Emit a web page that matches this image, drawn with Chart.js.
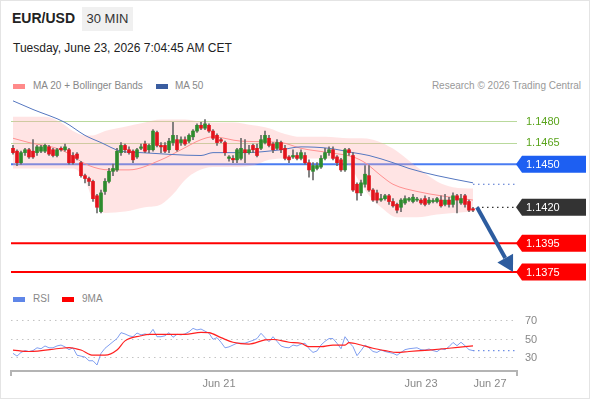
<!DOCTYPE html>
<html><head><meta charset="utf-8">
<script src="https://cdn.jsdelivr.net/npm/chart.js@4.4.1/dist/chart.umd.min.js"></script>
<style>
html,body{margin:0;padding:0;background:#fff;}
#wrap{position:relative;width:590px;height:400px;overflow:hidden;font-family:"Liberation Sans",Arial,sans-serif;}
#frame{position:absolute;left:0;top:0;width:588px;height:397px;border:1px solid #e4e4e4;}
.abs{position:absolute;white-space:nowrap;}
#sym{left:12px;top:10px;font-size:14px;font-weight:bold;color:#222;}
#tf{left:82px;top:7px;width:51px;height:24px;line-height:24px;text-align:center;background:#f0f0f0;font-size:13px;color:#333;}
#date{left:13px;top:41px;font-size:12px;color:#222;}
.lg{font-size:10px;color:#888;line-height:12px;}
.sw{position:absolute;width:12px;height:5px;}
canvas{position:absolute;left:0;}
</style></head>
<body><div id="wrap">
<div id="frame"></div>
<div class="abs" id="sym">EUR/USD</div>
<div class="abs" id="tf">30 MIN</div>
<div class="abs" id="date">Tuesday, June 23, 2026 7:04:45 AM CET</div>
<div class="sw" style="left:13px;top:84px;background:#ff8a8a"></div>
<div class="abs lg" style="left:33px;top:80px">MA 20 + Bollinger Bands</div>
<div class="sw" style="left:156px;top:84px;background:#3a5da0"></div>
<div class="abs lg" style="left:175px;top:80px">MA 50</div>
<div class="abs lg" style="right:9px;top:80px;color:#999">Research © 2026 Trading Central</div>
<div class="sw" style="left:13px;top:297px;background:#5f86e8"></div>
<div class="abs lg" style="left:33px;top:293px">RSI</div>
<div class="sw" style="left:62px;top:297px;background:#ff0000"></div>
<div class="abs lg" style="left:82px;top:293px">9MA</div>
<canvas id="price" width="590" height="190" style="top:95px"></canvas>
<canvas id="rsi" width="590" height="95" style="top:305px"></canvas>
</div>
<script>
// ---- data ----
const opens = [1.1461,1.1459,1.1451,1.1458,1.1460,1.1459,1.1458,1.1459,1.1459,1.1462,
1.1460,1.1456,1.1461,1.1460,1.1460,1.1456,1.1457,1.1451,1.1442,1.1440,
1.1438,1.1428,1.1417,1.1431,1.1438,1.1445,1.1446,1.1458,1.1463,1.1460,
1.1459,1.1455,1.1461,1.1464,1.1460,1.1460,1.1472,1.1463,1.1463,1.1460,
1.1465,1.1467,1.1465,1.1467,1.1466,1.1469,1.1473,1.1477,1.1475,1.1477,
1.1473,1.1470,1.1467,1.1465,1.1454,1.1454,1.1453,1.1454,1.1460,
1.1458,1.1463,1.1461,1.1461,1.1465,1.1468,1.1464,1.1461,1.1465,1.1461,
1.1455,1.1455,1.1456,1.1454,1.1456,1.1451,1.1445,1.1447,1.1448,
1.1454,1.1458,1.1460,1.1455,1.1453,1.1446,1.1460,1.1456,1.1436,1.1430,
1.1436,1.1442,1.1432,1.1430,1.1425,1.1426,1.1428,1.1424,1.1422,1.1420,1.1423,
1.1425,1.1424,1.1425,1.1425,1.1426,1.1423,1.1424,1.1424,1.1425,1.1422,1.1425,
1.1422,1.1428,1.1423,1.1428,1.1424,1.1419];
const highs = [1.1463,1.1460,1.1459,1.1461,1.1461,1.1467,1.1463,1.1463,1.1464,1.1463,
1.1461,1.1461,1.1462,1.1464,1.1461,1.1458,1.1458,1.1452,1.1443,1.1441,
1.1439,1.1429,1.1432,1.1440,1.1447,1.1450,1.1461,1.1465,1.1464,1.1462,
1.1460,1.1461,1.1464,1.1466,1.1464,1.1474,1.1473,1.1465,1.1465,1.1468,
1.1479,1.1470,1.1469,1.1469,1.1471,1.1474,1.1478,1.1479,1.1481,1.1478,
1.1474,1.1471,1.1468,1.1466,1.1456,1.1456,1.1461,1.1468,1.1467,
1.1463,1.1464,1.1464,1.1470,1.1473,1.1470,1.1465,1.1467,1.1466,1.1463,
1.1456,1.1460,1.1458,1.1460,1.1458,1.1453,1.1451,1.1451,1.1456,
1.1461,1.1462,1.1462,1.1456,1.1454,1.1461,1.1461,1.1458,1.1437,1.1439,
1.1449,1.1449,1.1433,1.1432,1.1429,1.1429,1.1429,1.1426,1.1423,1.1426,1.1428,
1.1427,1.1429,1.1427,1.1426,1.1428,1.1427,1.1426,1.1427,1.1428,1.1429,1.1427,
1.1430,1.1429,1.1429,1.1429,1.1425,1.1420];
const lows = [1.1457,1.1449,1.1450,1.1456,1.1454,1.1454,1.1456,1.1458,1.1458,1.1456,
1.1455,1.1455,1.1459,1.1459,1.1450,1.1450,1.1453,1.1441,1.1437,1.1435,
1.1424,1.1416,1.1416,1.1429,1.1437,1.1442,1.1445,1.1456,1.1458,1.1457,
1.1451,1.1454,1.1460,1.1458,1.1458,1.1459,1.1462,1.1458,1.1458,1.1458,
1.1463,1.1459,1.1463,1.1463,1.1465,1.1467,1.1472,1.1474,1.1474,1.1472,
1.1467,1.1463,1.1465,1.1456,1.1452,1.1451,1.1451,1.1453,1.1451,
1.1457,1.1458,1.1455,1.1460,1.1464,1.1462,1.1458,1.1460,1.1458,1.1453,
1.1451,1.1454,1.1453,1.1453,1.1450,1.1441,1.1439,1.1446,1.1447,
1.1453,1.1456,1.1453,1.1449,1.1445,1.1445,1.1456,1.1431,1.1425,1.1428,
1.1434,1.1431,1.1424,1.1423,1.1424,1.1425,1.1422,1.1420,1.1416,1.1417,1.1422,
1.1424,1.1423,1.1424,1.1422,1.1421,1.1422,1.1423,1.1423,1.1420,1.1421,1.1420,
1.1420,1.1416,1.1422,1.1420,1.1417,1.1417];
const closes = [1.1458,1.1451,1.1458,1.1460,1.1455,1.1455,1.1462,1.1462,1.1463,1.1457,
1.1456,1.1460,1.1460,1.1462,1.1451,1.1451,1.1454,1.1442,1.1440,1.1438,
1.1426,1.1420,1.1430,1.1438,1.1445,1.1447,1.1459,1.1463,1.1460,1.1458,
1.1453,1.1460,1.1462,1.1459,1.1463,1.1473,1.1463,1.1462,1.1459,1.1466,
1.1470,1.1460,1.1467,1.1464,1.1470,1.1473,1.1477,1.1475,1.1478,1.1473,
1.1468,1.1465,1.1466,1.1458,1.1455,1.1453,1.1460,1.1461,1.1458,
1.1460,1.1460,1.1456,1.1467,1.1470,1.1463,1.1460,1.1465,1.1460,1.1454,
1.1453,1.1456,1.1454,1.1458,1.1451,1.1446,1.1449,1.1449,1.1454,
1.1458,1.1460,1.1454,1.1451,1.1446,1.1460,1.1458,1.1432,1.1430,1.1437,
1.1443,1.1432,1.1425,1.1425,1.1426,1.1428,1.1424,1.1421,1.1418,1.1425,1.1426,
1.1426,1.1427,1.1425,1.1423,1.1422,1.1425,1.1424,1.1426,1.1421,1.1425,1.1422,
1.1428,1.1425,1.1426,1.1422,1.1418,1.1418];

const bandIdx = [0,8,12,15,18,20,23,28,33,37,40,43,46,50,55,60,64,68,72,78,84,87,90,92,96,101,106,110,115];
const upperBand = [1.1483,1.1483,1.1479,1.1473,1.1470,1.1470,1.1473,1.1476,1.1479,1.1481,1.1481,1.1481,1.1480,1.1479,1.1479,1.1477,1.1475,1.1471,1.1469,1.1469,1.1468,1.1468,1.1467,1.1465,1.1459,1.1448,1.1438,1.1434,1.1433];
const lowerBand = [1.1447,1.1447,1.1447,1.1447,1.1439,1.1425,1.1416,1.1417,1.1420,1.1422,1.1429,1.1439,1.1445,1.1448,1.1448,1.1449,1.1453,1.1454,1.1454,1.1454,1.1449,1.1436,1.1425,1.1420,1.1413,1.1413,1.1415,1.1416,1.1417];
const ma20Idx = [0,4,12,19,24,29,37,42,47,50,57,67,72,79,85,88,92,95,101,107,115];
const ma20 = [1.1468,1.1465,1.1460,1.1449,1.1446,1.1446,1.1453,1.1460,1.1467,1.1469,1.1466,1.1465,1.1461,1.1458,1.1455,1.1451,1.1442,1.1436,1.1431,1.1428,1.1425];
const ma50Idx = [0,5,13,18,22,27,32,47,50,58,67,72,79,85,89,95,99,106,115];
const ma50 = [1.1494,1.1488,1.1479,1.1470,1.1465,1.1459,1.1458,1.1456,1.1458,1.1458,1.1460,1.1462,1.1461,1.1458,1.1456,1.1451,1.1447,1.1442,1.1437];
const ma50Next = 1.1436;

const rsi = [35,32,36,38,37,38,41,40,43,41,
41,43,44,42,39,41,33,32,31,27,
27,22.4,35,40.5,44,47.6,51,57.4,56,54,
53,57,55,56,55,61,53,53,54,57.4,
52.4,55.6,55,56,58.4,62,60.3,61.3,59,56.7,
50.2,52,47,41,42,44,46,46,46,47.6,
49,51,56.7,52,47.6,53,48,43,41.5,41,
44,43,45,46,40,36,37.6,44,48,51,
51,45.9,40,53,47,42.2,32.5,38,44,41,
37,36,38.6,37,36,35,33,36,39,40,
40.5,41,39,38.6,39.7,38,36.8,40,39,42.2,
46.8,43.3,47,43.3,39,38];
const ma9Idx = [0,4,12,14,17,20,23,26,28,32,34,39,43,47,49,52,55,59,63,65,69,72,74,77,80,83,84,87,90,93,96,99,104,109,113,115];
const ma9 = [38.6,37,40.5,41.3,38.6,33,33,38.6,48.5,54,55.6,55.6,55.6,57.8,57.4,52,47,45,49.5,50,47,45.9,42.2,42.2,44,44,46.5,44,40.5,38,36,37,38.6,40.5,42.2,43];
const rsiNext = 38;

const resistLevels = [1.1480, 1.1465];
const pivotLevel = 1.1450;
const lastPrice = 1.1420;
const supportLevels = [1.1395, 1.1375];
const arrowFrom = [116, 1.1420];
const arrowTo = [125, 1.1375];
const rsiTicks = [30, 50, 70];
const xTickPos = [51.5, 102, 119.25];
const xTickLabels = ['Jun 21', 'Jun 23', 'Jun 27'];

// ---- chart setup ----
Chart.defaults.font.family = '"Liberation Sans", Arial, sans-serif';
Chart.defaults.animation = false;
const X_MIN = -0.5, X_MAX = 126;
const GREEN = '#2e8b2e', RED = '#e2141c';
const n = closes.length;
const pts = (idx, vals) => idx.map((x, k) => ({x: x, y: vals[k]}));
const fmt = v => v.toFixed(4);
const FONT = '11px "Liberation Sans", Arial, sans-serif';

function drawTag(ctx, xL, y, w, color, text) {
  const h = 17, nt = 6;
  ctx.save();
  ctx.fillStyle = color;
  ctx.beginPath();
  ctx.moveTo(xL, y);
  ctx.lineTo(xL + nt, y - h / 2);
  ctx.lineTo(xL + w, y - h / 2);
  ctx.lineTo(xL + w, y + h / 2);
  ctx.lineTo(xL + nt, y + h / 2);
  ctx.closePath();
  ctx.fill();
  ctx.fillStyle = '#fff';
  ctx.font = FONT;
  ctx.textBaseline = 'middle';
  ctx.textAlign = 'left';
  ctx.fillText(text, xL + 10, y + 0.5);
  ctx.restore();
}

const levelsPlugin = {
  id: 'levels',
  beforeDatasetsDraw(chart) {
    const {ctx, chartArea: a, scales: {y}} = chart;
    ctx.save();
    resistLevels.forEach(v => {
      const py = Math.round(y.getPixelForValue(v)) + 0.5;
      ctx.strokeStyle = '#b9d99c'; ctx.lineWidth = 1;
      ctx.beginPath(); ctx.moveTo(a.left, py); ctx.lineTo(a.right, py); ctx.stroke();
    });
    const pb = y.getPixelForValue(pivotLevel);
    ctx.strokeStyle = '#4a7cf2'; ctx.lineWidth = 2;
    ctx.beginPath(); ctx.moveTo(a.left, pb); ctx.lineTo(a.right, pb); ctx.stroke();
    supportLevels.forEach(v => {
      const py = y.getPixelForValue(v);
      ctx.strokeStyle = '#ff0000'; ctx.lineWidth = 2;
      ctx.beginPath(); ctx.moveTo(a.left, py); ctx.lineTo(a.right, py); ctx.stroke();
    });
    ctx.restore();
  },
  afterDraw(chart) {
    const {ctx, chartArea: a, scales: {x, y}} = chart;
    ctx.save();
    ctx.font = FONT;
    ctx.textBaseline = 'middle';
    ctx.fillStyle = '#5aa41c';
    resistLevels.forEach(v => ctx.fillText(fmt(v), a.right + 9, y.getPixelForValue(v) + 0.5));
    drawTag(ctx, a.right - 1, y.getPixelForValue(pivotLevel), 70, '#1d5ff2', fmt(pivotLevel));
    drawTag(ctx, a.right - 1, y.getPixelForValue(lastPrice), 70, '#333333', fmt(lastPrice));
    supportLevels.forEach(v => drawTag(ctx, a.right - 1, y.getPixelForValue(v), 70, '#ff0000', fmt(v)));
    // arrow
    const x0 = x.getPixelForValue(arrowFrom[0]), y0 = y.getPixelForValue(arrowFrom[1]);
    const x1 = x.getPixelForValue(arrowTo[0]), y1 = y.getPixelForValue(arrowTo[1]);
    const ang = Math.atan2(y1 - y0, x1 - x0);
    const headLen = 16, headW = 9;
    const bx = x1 - headLen * Math.cos(ang), by = y1 - headLen * Math.sin(ang);
    ctx.strokeStyle = '#2d5c9f'; ctx.fillStyle = '#2d5c9f';
    ctx.lineWidth = 4; ctx.lineCap = 'butt';
    ctx.beginPath(); ctx.moveTo(x0, y0); ctx.lineTo(bx, by); ctx.stroke();
    ctx.beginPath();
    ctx.moveTo(x1, y1);
    ctx.lineTo(bx + headW * Math.sin(ang), by - headW * Math.cos(ang));
    ctx.lineTo(bx - headW * Math.sin(ang), by + headW * Math.cos(ang));
    ctx.closePath(); ctx.fill();
    ctx.restore();
  }
};

new Chart(document.getElementById('price'), {
  type: 'bar',
  data: {
    datasets: [
      {type: 'bar', data: closes.map((c, i) => ({x: i, y: [opens[i], c]})),
       backgroundColor: closes.map((c, i) => c >= opens[i] ? GREEN : RED),
       barThickness: 3, minBarLength: 1, grouped: false, order: 1},
      {type: 'bar', data: highs.map((h, i) => ({x: i, y: [lows[i], h]})),
       backgroundColor: '#6a6a6a', barThickness: 1, grouped: false, order: 2},
      {type: 'line', data: pts(ma50Idx, ma50), borderColor: '#5577c0', borderWidth: 1,
       pointRadius: 0, cubicInterpolationMode: 'monotone', order: 3},
      {type: 'line', data: pts(ma20Idx, ma20), borderColor: '#ff9090', borderWidth: 1,
       pointRadius: 0, cubicInterpolationMode: 'monotone', order: 4},
      {type: 'line', data: pts(bandIdx, upperBand), borderWidth: 0, borderColor: 'rgba(0,0,0,0)',
       pointRadius: 0, cubicInterpolationMode: 'monotone', fill: false, order: 6},
      {type: 'line', data: pts(bandIdx, lowerBand), borderWidth: 0, borderColor: 'rgba(0,0,0,0)',
       pointRadius: 0, cubicInterpolationMode: 'monotone', fill: '-1',
       backgroundColor: 'rgba(255,170,170,0.32)', order: 7},
      {type: 'line', data: [{x: n - 1, y: ma50Next}, {x: X_MAX, y: ma50Next}], borderColor: '#4b6fcf',
       borderWidth: 1.2, borderDash: [1.5, 3.5], pointRadius: 0, order: 3},
      {type: 'line', data: [{x: n, y: lastPrice}, {x: X_MAX, y: lastPrice}], borderColor: '#333',
       borderWidth: 1.2, borderDash: [1.5, 3.5], pointRadius: 0, order: 3}
    ]
  },
  options: {
    responsive: false, devicePixelRatio: 1,
    layout: {autoPadding: false, padding: {left: 11, right: 73, top: 0, bottom: 0}},
    plugins: {legend: {display: false}, tooltip: {enabled: false}},
    scales: {
      x: {type: 'linear', min: X_MIN, max: X_MAX, offset: false, display: false},
      y: {type: 'linear', min: 1.136595, max: 1.149808, display: false}
    }
  },
  plugins: [levelsPlugin]
});

const axisPlugin = {
  id: 'axisLine',
  afterDraw(chart) {
    const {ctx, chartArea: a} = chart;
    ctx.save();
    ctx.strokeStyle = '#b4b4b4'; ctx.lineWidth = 2;
    ctx.beginPath();
    ctx.moveTo(a.left, a.bottom + 6); ctx.lineTo(a.left, a.bottom + 1);
    ctx.lineTo(a.right, a.bottom + 1); ctx.lineTo(a.right, a.bottom + 6);
    ctx.stroke();
    ctx.restore();
  }
};

const noPad = s => { s.paddingTop = 0; s.paddingBottom = 0; s.paddingLeft = 0; s.paddingRight = 0; };

new Chart(document.getElementById('rsi'), {
  type: 'line',
  data: {
    datasets: [
      {data: rsi.map((v, i) => ({x: i, y: v})), borderColor: '#809ff0', borderWidth: 1, pointRadius: 0, tension: 0, order: 2},
      {data: pts(ma9Idx, ma9), borderColor: '#ff2020', borderWidth: 1.2, pointRadius: 0, cubicInterpolationMode: 'monotone', order: 1},
      {data: [{x: n - 1, y: rsiNext}, {x: X_MAX, y: rsiNext}], borderColor: '#6f8fe6', borderWidth: 1.2, borderDash: [1.5, 3.5], pointRadius: 0, order: 3}
    ]
  },
  options: {
    responsive: false, devicePixelRatio: 1,
    layout: {autoPadding: false, padding: {left: 11, right: 0, top: 0, bottom: 0}},
    plugins: {legend: {display: false}, tooltip: {enabled: false}},
    scales: {
      x: {type: 'linear', min: X_MIN, max: X_MAX, offset: false,
          grid: {display: false, drawTicks: false}, border: {display: false},
          afterBuildTicks: s => { s.ticks = xTickPos.map(v => ({value: v})); },
          afterFit: s => { s.height = 30; noPad(s); },
          ticks: {autoSkip: false, maxRotation: 0, padding: 7, color: '#888', font: {size: 11},
                  callback: (v, i) => xTickLabels[i]}},
      y: {type: 'linear', position: 'right', min: 17, max: 87.3,
          afterBuildTicks: s => { s.ticks = rsiTicks.map(v => ({value: v})); },
          afterFit: s => { s.width = 73; noPad(s); },
          grid: {color: '#c4c4c4', lineWidth: 1, drawTicks: false},
          border: {display: false, dash: [1.5, 4]},
          ticks: {padding: 8, color: '#888', font: {size: 11}}}
    }
  },
  plugins: [axisPlugin]
});
</script>
</body></html>
